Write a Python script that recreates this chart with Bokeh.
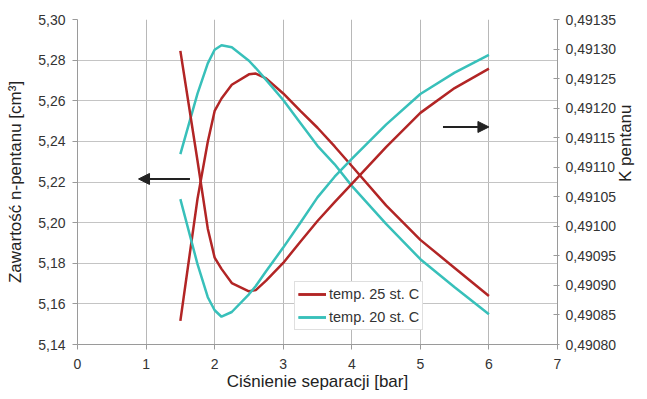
import math
from bokeh.plotting import figure
from bokeh.models import (Range1d, LinearAxis, FixedTicker, CustomJSTickFormatter,
                          Legend, LegendItem, Arrow, NormalHead)
from bokeh.embed import file_html
from bokeh.resources import INLINE

# ---- data ----
pressure = [1.5, 1.75, 1.9, 2.0, 2.1, 2.25, 2.5, 2.6, 2.75, 3.0, 3.25, 3.5, 3.75, 4.0, 4.5, 5.0, 5.5, 6.0]
content_25 = [5.1516, 5.2117, 5.2398, 5.2550, 5.2611, 5.2679, 5.2730, 5.2734, 5.2710, 5.2636,
              5.2550, 5.2467, 5.2375, 5.2279, 5.2085, 5.1915, 5.1777, 5.1639]
content_20 = [5.2337, 5.2635, 5.2784, 5.2851, 5.2873, 5.2863, 5.2797, 5.2761, 5.2703, 5.2604,
              5.2491, 5.2378, 5.2287, 5.2181, 5.1994, 5.1820, 5.1682, 5.1549]
k_25 = [0.491297, 0.491111, 0.490996, 0.490947, 0.490928, 0.490904, 0.490890, 0.490892, 0.490908,
        0.490938, 0.490974, 0.491009, 0.491041, 0.491072, 0.491134, 0.491192, 0.491234, 0.491267]
k_20 = [0.491046, 0.490936, 0.490880, 0.490858, 0.490847, 0.490855, 0.490885, 0.490899, 0.490924,
        0.490964, 0.491006, 0.491049, 0.491084, 0.491114, 0.491172, 0.491224, 0.491260, 0.491290]

series_labels = ["temp. 25 st. C", "temp. 20 st. C"]
x_ticks = [0, 1, 2, 3, 4, 5, 6, 7]
left_ticks = [5.14, 5.16, 5.18, 5.20, 5.22, 5.24, 5.26, 5.28, 5.30]
right_ticks = [0.49080, 0.49085, 0.49090, 0.49095, 0.49100, 0.49105, 0.49110,
               0.49115, 0.49120, 0.49125, 0.49130, 0.49135]
x_title = "Ciśnienie separacji [bar]"
left_title = "Zawartość n-pentanu [cm³]"
right_title = "K pentanu"

RED = "#b22525"
TEAL = "#38c0ba"
FONT = "Liberation Sans"
TXT = "#333333"
AXC = "#9a9a9a"

p = figure(width=647, height=399, output_backend="svg", toolbar_location=None,
           x_range=Range1d(0, 7), y_range=Range1d(5.14, 5.30),
           min_border_left=77, min_border_right=85, min_border_top=19, min_border_bottom=55)
p.outline_line_color = None
p.background_fill_color = "white"
p.border_fill_color = "white"

p.extra_y_ranges = {"k": Range1d(0.49080, 0.49135)}

# grid
p.xgrid.ticker = FixedTicker(ticks=[t for t in x_ticks if 0 < t < 7])
p.ygrid.ticker = FixedTicker(ticks=[t for t in left_ticks if 5.14 < t < 5.30])
p.xgrid.grid_line_color = "#b8b8b8"
p.ygrid.grid_line_color = "#c4c4c4"
p.grid.grid_line_width = 1

# bottom axis
xa = p.xaxis[0]
xa.ticker = FixedTicker(ticks=x_ticks)
xa.axis_label = x_title

# left axis
ya = p.yaxis[0]
ya.ticker = FixedTicker(ticks=left_ticks)
ya.formatter = CustomJSTickFormatter(code="return tick.toFixed(2).replace('.', ',');")
ya.axis_label = left_title

# right axis
ra = LinearAxis(y_range_name="k", ticker=FixedTicker(ticks=right_ticks),
                formatter=CustomJSTickFormatter(code="return tick.toFixed(5).replace('.', ',');"))
p.add_layout(ra, "right")

for ax in [xa, ya, ra]:
    ax.axis_line_color = AXC
    ax.major_tick_line_color = AXC
    ax.minor_tick_line_color = None
    ax.major_label_text_font = FONT
    ax.major_label_text_font_size = "14px"
    ax.major_label_text_color = TXT
    ax.axis_label_text_font = FONT
    ax.axis_label_text_font_size = "17px"
    ax.axis_label_text_font_style = "normal"
    ax.axis_label_text_color = "#222222"

xa.major_tick_out = 5
xa.major_tick_in = 0
xa.major_label_standoff = 9
xa.axis_label_standoff = 0
ya.major_tick_out = 5
ya.major_tick_in = 0
ya.major_label_standoff = 7
ya.axis_label_standoff = 10
ra.major_tick_out = 2
ra.major_tick_in = 4
ra.major_label_standoff = 6

# right-axis title, reading bottom-to-top: a tick-less axis whose single label is the title
title_axis = LinearAxis(ticker=FixedTicker(ticks=[(left_ticks[0] + left_ticks[-1]) / 2]),
                        formatter=CustomJSTickFormatter(args=dict(t=right_title), code="return t;"))
title_axis.axis_line_color = None
title_axis.major_tick_line_color = None
title_axis.minor_tick_line_color = None
title_axis.major_tick_out = 0
title_axis.major_tick_in = 0
title_axis.major_label_standoff = 6
title_axis.major_label_orientation = math.pi / 2
title_axis.major_label_text_font = FONT
title_axis.major_label_text_font_size = "17px"
title_axis.major_label_text_color = "#222222"
p.add_layout(title_axis, "right")

r25 = p.line(pressure, content_25, line_color=RED, line_width=2.5)
r20 = p.line(pressure, content_20, line_color=TEAL, line_width=2.5)
k25 = p.line(pressure, k_25, y_range_name="k", line_color=RED, line_width=2.5)
k20 = p.line(pressure, k_20, y_range_name="k", line_color=TEAL, line_width=2.5)

legend = Legend(items=[LegendItem(label=series_labels[0], renderers=[r25, k25]),
                       LegendItem(label=series_labels[1], renderers=[r20, k20])],
                location=(217, 14))
legend.label_text_font = FONT
legend.label_text_font_size = "14.5px"
legend.label_text_color = TXT
legend.glyph_width = 28
legend.glyph_height = 18
legend.label_height = 18
legend.label_standoff = 3
legend.spacing = 5
legend.padding = 3
legend.margin = 0
legend.border_line_color = "#c0c0c0"
legend.border_line_width = 1
legend.background_fill_alpha = 1
p.add_layout(legend)

# arrows indicating which axis each curve pair uses
p.add_layout(Arrow(end=NormalHead(size=11, fill_color="#222222", line_color="#222222"),
                   x_start=1.64, y_start=5.2215, x_end=0.89, y_end=5.2215,
                   line_color="#222222", line_width=2))
p.add_layout(Arrow(end=NormalHead(size=11, fill_color="#222222", line_color="#222222"),
                   x_start=5.33, y_start=5.2471, x_end=6.0, y_end=5.2471,
                   line_color="#222222", line_width=2))

open("out.html", "w").write(file_html(p, INLINE))
